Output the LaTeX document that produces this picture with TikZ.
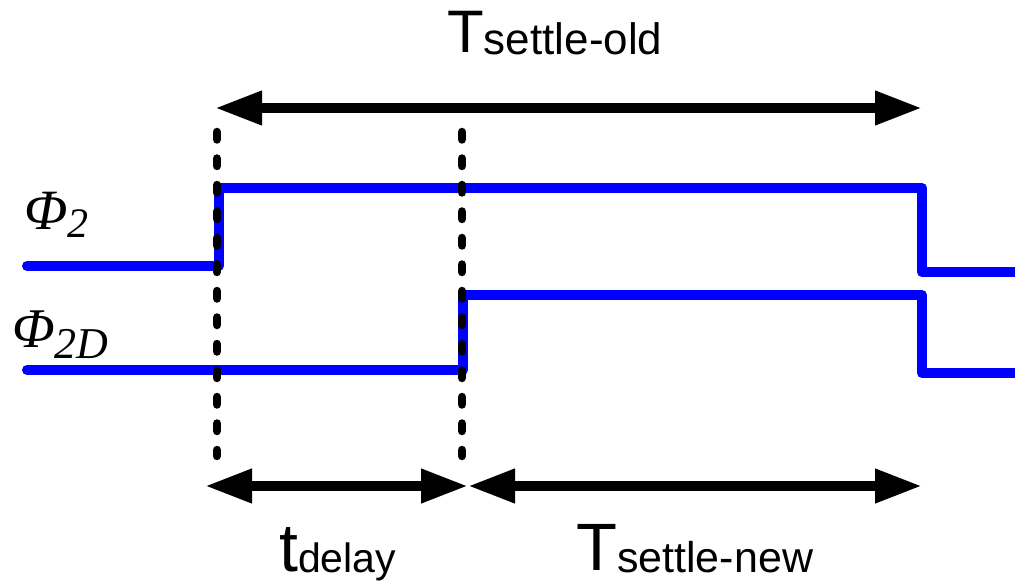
\documentclass[tikz,border=0pt]{standalone}
\usepackage{fontspec}
\setmainfont{Liberation Sans}
\newfontfamily\phifont{Liberation Serif}
\usetikzlibrary{arrows.meta}
\tikzset{
  sig/.style={draw=blue, line width=10pt, line join=round, line cap=round},
  marker/.style={draw=black, line width=8.5pt, line cap=round, dash pattern=on 7.5pt off 19pt},
  span/.style={draw=black, line width=10pt, {Triangle[length=47pt,width=32pt]}-{Triangle[length=47pt,width=32pt]}},
  lbl/.style={inner sep=0pt, anchor=base west}
}
\begin{document}
\begin{tikzpicture}[x=1pt,y=-1pt]
\useasboundingbox (0,0) rectangle (1015,588);
% coordinates
\coordinate (a1) at (27,266);
\coordinate (a2) at (219,266);
\coordinate (a3) at (219,188);
\coordinate (a4) at (922,188);
\coordinate (a5) at (922,272);
\coordinate (a6) at (1022,272);
\coordinate (b1) at (27,370);
\coordinate (b2) at (463,370);
\coordinate (b3) at (463,295);
\coordinate (b4) at (922,295);
\coordinate (b5) at (922,373);
\coordinate (b6) at (1022,373);
\coordinate (d1t) at (217,132);
\coordinate (d1b) at (217,456);
\coordinate (d2t) at (462,132);
\coordinate (d2b) at (462,456);
\coordinate (tl) at (215,108);
\coordinate (tr) at (922,108);
\coordinate (bl) at (205,486);
\coordinate (bm) at (468,486);
\coordinate (br) at (922,486);
% signals
\draw[sig] (a1) -- (a2) -- (a3) -- (a4) -- (a5) -- (a6);
\draw[sig] (b1) -- (b2) -- (b3) -- (b4) -- (b5) -- (b6);
% markers
\draw[marker] (d1t) -- (d1b);
\draw[marker] (d2t) -- (d2b);
% spans
\draw[span] (tl) -- (tr);
\draw[span] (bl) -- (bm);
\draw[span] (bm) -- (br);
% labels
\node[lbl] (told) at (447,53) {\fontsize{60}{60}\selectfont T\raisebox{-2pt}{\fontsize{44}{44}\selectfont settle-old}};
\node[lbl] (tdel) at (279,571) {\fontsize{68}{68}\selectfont t\raisebox{-1pt}{\fontsize{41}{41}\selectfont delay}};
\node[lbl] (tnew) at (576,570) {\fontsize{67}{67}\selectfont T\raisebox{-2pt}{\fontsize{43}{43}\selectfont settle-new}};
\node[lbl] (phi2) at (24,230) {\phifont\itshape\fontsize{57}{57}\selectfont Φ\raisebox{-8pt}{\fontsize{42}{42}\selectfont 2}};
\node[lbl] (phi2d) at (12,347) {\phifont\itshape\fontsize{56}{56}\selectfont Φ\raisebox{-11pt}{\fontsize{44}{44}\selectfont 2D}};
\end{tikzpicture}
\end{document}
